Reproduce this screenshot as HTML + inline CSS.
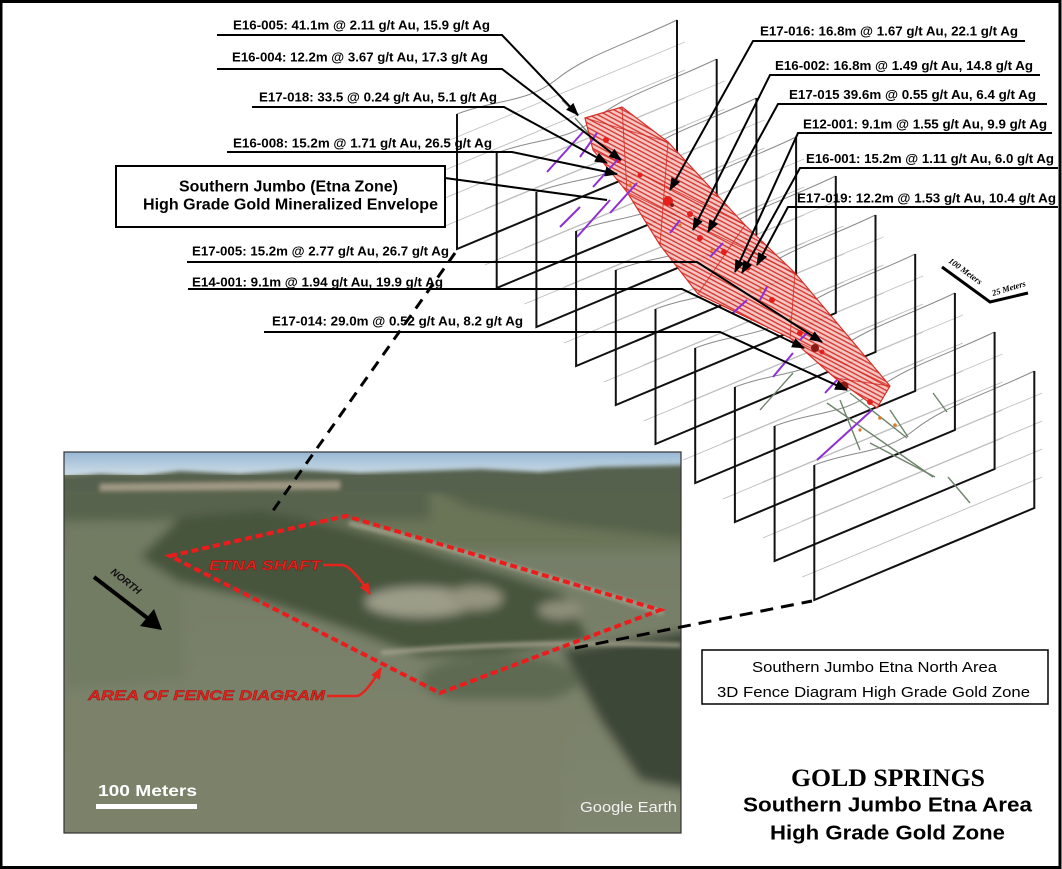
<!DOCTYPE html>
<html><head><meta charset="utf-8"><style>
html,body{margin:0;padding:0;background:#fff;}
svg{display:block;}
</style></head><body>
<svg width="1062" height="869" viewBox="0 0 1062 869" xmlns="http://www.w3.org/2000/svg" xmlns:xlink="http://www.w3.org/1999/xlink">
<defs>
  <marker id="ah" markerWidth="13" markerHeight="10" refX="12" refY="5" orient="auto" markerUnits="userSpaceOnUse">
    <path d="M0,0 L13,5 L0,10 Z" fill="#000"/>
  </marker>
  <marker id="ahr" markerWidth="12" markerHeight="10" refX="11" refY="5" orient="auto" markerUnits="userSpaceOnUse">
    <path d="M0,0 L12,5 L0,10 Z" fill="#e8231c"/>
  </marker>
  <pattern id="hatch" patternUnits="userSpaceOnUse" width="4" height="4" patternTransform="rotate(28)">
    <rect width="4" height="4" fill="#f6c4c0"/>
    <line x1="0" y1="0.7" x2="4" y2="0.7" stroke="#d4261f" stroke-width="1.3"/>
  </pattern>
  <g id="pg">
    <path d="M0,-135 C40,-150 70,-146 100,-170 S170,-205 220,-229" fill="none" stroke="#8a8a8a" stroke-width="1"/>
    <line x1="-12" y1="-23" x2="228" y2="-123" stroke="#bdbdbd" stroke-width="0.9"/>
    <line x1="-12" y1="-51" x2="228" y2="-151" stroke="#bdbdbd" stroke-width="0.9"/>
    <line x1="-12" y1="-79" x2="228" y2="-179" stroke="#bdbdbd" stroke-width="0.9"/>
    <line x1="-12" y1="-107" x2="228" y2="-207" stroke="#c4c4c4" stroke-width="0.9"/>
  </g>
  <g id="pb">
    <path d="M0,-135 V0 L220,-92 V-229" fill="none" stroke="#111" stroke-width="2"/>
  </g>
  <clipPath id="pc"><rect x="64" y="452" width="617" height="381"/></clipPath>
  <filter id="bl" x="-10%" y="-10%" width="120%" height="120%"><feGaussianBlur stdDeviation="5"/></filter>
  <filter id="bl2" x="-10%" y="-10%" width="120%" height="120%"><feGaussianBlur stdDeviation="2"/></filter>
  <linearGradient id="sky" x1="0" y1="0" x2="0" y2="1">
    <stop offset="0" stop-color="#8fb1d1"/><stop offset="1" stop-color="#cddde6"/>
  </linearGradient>
  <linearGradient id="fg" x1="0" y1="0" x2="0" y2="1">
    <stop offset="0" stop-color="#717a63"/><stop offset="1" stop-color="#7f866f"/>
  </linearGradient>
</defs>

<!-- page border -->
<rect x="1" y="1.5" width="1059" height="866" fill="none" stroke="#000" stroke-width="3"/>

<!-- fence panels gray -->
<use xlink:href="#pg" transform="translate(457,249)"/>
<use xlink:href="#pg" transform="translate(496.7,288)"/>
<use xlink:href="#pg" transform="translate(536.4,327)"/>
<use xlink:href="#pg" transform="translate(576.1,366)"/>
<use xlink:href="#pg" transform="translate(615.8,405)"/>
<use xlink:href="#pg" transform="translate(655.5,444)"/>
<use xlink:href="#pg" transform="translate(695.2,483)"/>
<use xlink:href="#pg" transform="translate(734.9,522)"/>
<use xlink:href="#pg" transform="translate(774.6,561)"/>
<use xlink:href="#pg" transform="translate(814.3,600)"/>

<!-- fence panels black -->
<use xlink:href="#pb" transform="translate(457,249)"/>
<use xlink:href="#pb" transform="translate(496.7,288)"/>
<use xlink:href="#pb" transform="translate(536.4,327)"/>
<use xlink:href="#pb" transform="translate(576.1,366)"/>
<use xlink:href="#pb" transform="translate(615.8,405)"/>
<use xlink:href="#pb" transform="translate(655.5,444)"/>
<use xlink:href="#pb" transform="translate(695.2,483)"/>
<use xlink:href="#pb" transform="translate(734.9,522)"/>
<use xlink:href="#pb" transform="translate(774.6,561)"/>
<use xlink:href="#pb" transform="translate(814.3,600)"/>

<!-- drill traces gray/green -->
<g stroke="#6f846c" stroke-width="1.4" fill="none">
  <line x1="827" y1="403" x2="933" y2="477"/>
  <line x1="840" y1="400" x2="860" y2="450"/>
  <line x1="870" y1="443" x2="935" y2="477"/>
  <line x1="850" y1="393" x2="907" y2="438"/>
  <line x1="890" y1="410" x2="908" y2="437"/>
  <line x1="760" y1="410" x2="793" y2="373"/>
  <line x1="933" y1="393" x2="947" y2="412"/>
  <line x1="948" y1="477" x2="970" y2="503"/>
  <line x1="575" y1="118" x2="590" y2="135"/>
  <line x1="562" y1="100" x2="578" y2="116"/>
</g>

<!-- envelope -->
<polygon points="585,118 622,107 668,142 745,225 795,273 890,386 877,408 835,378 790,338 698,294 660,245 627,192 593,150" fill="url(#hatch)" stroke="#d4261f" stroke-width="1.2" opacity="0.95"/>
<g stroke="#d4261f" stroke-width="0.9" fill="none" opacity="0.85">
  <path d="M622,107 L627,192 M668,142 L660,245 M745,225 L698,294 M795,273 L790,338 M890,386 L835,378"/>
  <path d="M585,118 L668,142 M593,150 L745,225 M627,192 L795,273 M698,294 L890,386"/>
</g>

<!-- red/orange blobs -->
<g fill="#e3201b">
  <circle cx="606" cy="140" r="3"/><circle cx="618" cy="160" r="3"/><circle cx="640" cy="175" r="2.5"/>
  <circle cx="668" cy="201" r="5"/><circle cx="690" cy="214" r="3"/><circle cx="700" cy="238" r="3"/>
  <circle cx="724" cy="252" r="3"/><circle cx="748" cy="268" r="2.5"/><circle cx="772" cy="300" r="3"/>
  <circle cx="800" cy="333" r="3"/><circle cx="822" cy="352" r="2.5"/>
  <circle cx="870" cy="402" r="3"/>
</g>
<g fill="#8a1a14"><circle cx="815" cy="348" r="4"/><circle cx="844" cy="386" r="4.5"/><circle cx="672" cy="205" r="2"/></g>
<g fill="#e07a20">
  <circle cx="630" cy="185" r="1.6"/><circle cx="680" cy="225" r="1.6"/><circle cx="712" cy="250" r="1.6"/>
  <circle cx="760" cy="290" r="1.6"/><circle cx="790" cy="320" r="1.6"/><circle cx="880" cy="418" r="1.8"/>
  <circle cx="895" cy="425" r="1.8"/><circle cx="860" cy="430" r="1.6"/>
</g>

<!-- purple drill traces -->
<g stroke="#8e2fd4" stroke-width="2" fill="none">
  <line x1="547" y1="172" x2="583" y2="132"/>
  <line x1="580" y1="157" x2="597" y2="133"/>
  <line x1="593" y1="187" x2="620" y2="157"/>
  <line x1="577" y1="237" x2="610" y2="200"/>
  <line x1="560" y1="227" x2="580" y2="207"/>
  <line x1="610" y1="213" x2="637" y2="183"/>
  <line x1="670" y1="233" x2="680" y2="220"/>
  <line x1="710" y1="257" x2="723" y2="243"/>
  <line x1="733" y1="313" x2="747" y2="300"/>
  <line x1="760" y1="300" x2="767" y2="287"/>
  <line x1="773" y1="377" x2="793" y2="353"/>
  <line x1="800" y1="340" x2="807" y2="333"/>
  <line x1="817" y1="460" x2="872" y2="410"/>
  <line x1="825" y1="393" x2="837" y2="380"/>
</g>

<!-- scale bar -->
<path d="M942,267 L990,302 L1028,293" fill="none" stroke="#000" stroke-width="3"/>
<text x="0" y="0" transform="translate(948,262) rotate(36)" font-family="Liberation Serif, serif" font-style="italic" font-weight="bold" font-size="8.5" fill="#000">100 Meters</text>
<text x="0" y="0" transform="translate(993,296) rotate(-17)" font-family="Liberation Serif, serif" font-style="italic" font-weight="bold" font-size="8.5" fill="#000">25 Meters</text>

<!-- leaders -->
<g stroke="#000" stroke-width="2" fill="none">
  <path d="M217,35 H502 L578,115" marker-end="url(#ah)"/>
  <path d="M217,69 H502 L621,160" marker-end="url(#ah)"/>
  <path d="M252,107 H504 L607,163" marker-end="url(#ah)"/>
  <path d="M227,152 H512 L617,174" marker-end="url(#ah)"/>
  <path d="M187,262 H697 L822,342" marker-end="url(#ah)"/>
  <path d="M188,289 H682 L804,348" marker-end="url(#ah)"/>
  <path d="M264,332 H720 L847,390" marker-end="url(#ah)"/>
  <path d="M1025,41 H753 L670,190" marker-end="url(#ah)"/>
  <path d="M1040,75 H770 L693,230" marker-end="url(#ah)"/>
  <path d="M1047,104 H778 L708,232" marker-end="url(#ah)"/>
  <path d="M1052,133 H798 L735,272" marker-end="url(#ah)"/>
  <path d="M1058,168 H800 L742,273" marker-end="url(#ah)"/>
  <path d="M1058,207 H788 L757,265" marker-end="url(#ah)"/>
  <path d="M445,178 L607,200"/>
</g>

<!-- labels -->
<g font-family="Liberation Sans, Arial, sans-serif" font-weight="bold" font-size="13" fill="#000">
  <text x="233" y="29.5" textLength="257" lengthAdjust="spacingAndGlyphs">E16-005: 41.1m @ 2.11 g/t Au, 15.9 g/t Ag</text>
  <text x="232" y="61.5" textLength="256" lengthAdjust="spacingAndGlyphs">E16-004: 12.2m @ 3.67 g/t Au, 17.3 g/t Ag</text>
  <text x="259" y="101.5" textLength="238" lengthAdjust="spacingAndGlyphs">E17-018: 33.5 @ 0.24 g/t Au, 5.1 g/t Ag</text>
  <text x="233" y="147.5" textLength="259" lengthAdjust="spacingAndGlyphs">E16-008: 15.2m @ 1.71 g/t Au, 26.5 g/t Ag</text>
  <text x="192" y="255.5" textLength="257" lengthAdjust="spacingAndGlyphs">E17-005: 15.2m @ 2.77 g/t Au, 26.7 g/t Ag</text>
  <text x="192" y="286.5" textLength="251" lengthAdjust="spacingAndGlyphs">E14-001: 9.1m @ 1.94 g/t Au, 19.9 g/t Ag</text>
  <text x="272" y="325.5" textLength="251" lengthAdjust="spacingAndGlyphs">E17-014: 29.0m @ 0.52 g/t Au, 8.2 g/t Ag</text>
  <text x="760" y="35.5" textLength="258" lengthAdjust="spacingAndGlyphs">E17-016: 16.8m @ 1.67 g/t Au, 22.1 g/t Ag</text>
  <text x="775" y="70" textLength="258" lengthAdjust="spacingAndGlyphs">E16-002: 16.8m @ 1.49 g/t Au, 14.8 g/t Ag</text>
  <text x="789" y="99" textLength="247" lengthAdjust="spacingAndGlyphs">E17-015 39.6m @ 0.55 g/t Au, 6.4 g/t Ag</text>
  <text x="803" y="128.5" textLength="244" lengthAdjust="spacingAndGlyphs">E12-001: 9.1m @ 1.55 g/t Au, 9.9 g/t Ag</text>
  <text x="806" y="163" textLength="248" lengthAdjust="spacingAndGlyphs">E16-001: 15.2m @ 1.11 g/t Au, 6.0 g/t Ag</text>
  <text x="797" y="202.5" textLength="259" lengthAdjust="spacingAndGlyphs">E17-019: 12.2m @ 1.53 g/t Au, 10.4 g/t Ag</text>
</g>

<!-- envelope label box -->
<rect x="116" y="166" width="329" height="61" fill="#fff" stroke="#000" stroke-width="2"/>
<g font-family="Liberation Sans, Arial, sans-serif" font-weight="bold" font-size="15.5" fill="#000">
  <text x="179" y="191.5" textLength="219" lengthAdjust="spacingAndGlyphs">Southern Jumbo (Etna Zone)</text>
  <text x="143" y="209.5" textLength="295" lengthAdjust="spacingAndGlyphs">High Grade Gold Mineralized Envelope</text>
</g>

<!-- photo -->
<g clip-path="url(#pc)">
  <g filter="url(#bl)">
    <rect x="50" y="440" width="650" height="410" fill="url(#fg)"/>
    <rect x="50" y="480" width="650" height="70" fill="#6b7559"/>
    <rect x="50" y="486" width="380" height="34" fill="#58644d"/>
    <polygon points="420,482 690,478 690,540 560,525 470,508" fill="#56624b"/>
    <polygon points="64,525 180,520 185,680 64,690" fill="#727b63"/>
    <polygon points="140,557 181,517 261,510 341,527 422,550 502,573 562,593 590,640 502,653 422,657 341,627 261,600 181,583" fill="#47553d"/>
    <ellipse cx="420" cy="602" rx="55" ry="15" fill="#9c9d89"/>
    <ellipse cx="475" cy="598" rx="28" ry="12" fill="#94947f"/>
    <ellipse cx="560" cy="610" rx="22" ry="9" fill="#8f907c"/>
    <polygon points="562,650 690,630 690,790 640,780 600,720" fill="#3d4737"/>
    <ellipse cx="500" cy="680" rx="80" ry="25" fill="#5f6a52"/>
    <rect x="64" y="700" width="500" height="140" fill="#7b826b"/>
  </g>
  <rect x="60" y="448" width="630" height="27" fill="url(#sky)"/>
  <g filter="url(#bl2)">
    <path d="M60,478 L100,474 140,476 180,471 240,474 300,470 360,473 420,471 480,469 540,472 600,467 690,465 V492 H60Z" fill="#55604e"/>
    <polygon points="100,484 340,481 340,489 100,491" fill="#a09a85"/>
    <path d="M349,523 Q500,560 663,613" fill="none" stroke="#a8a590" stroke-width="4"/>
    <path d="M381,653 Q520,640 681,645" fill="none" stroke="#a5a38e" stroke-width="4"/>
  </g>
  <!-- red dashed area -->
  <polygon points="170,556 346,516 660,610 440,693" fill="none" stroke="#ec1c1c" stroke-width="4" stroke-dasharray="7,4"/>
  <!-- north arrow -->
  <line x1="94" y1="577" x2="150" y2="620" stroke="#000" stroke-width="4"/>
  <polygon points="162,630 140,626 154,609" fill="#000"/>
  <text x="0" y="0" transform="translate(110,573) rotate(38)" font-family="Liberation Sans, Arial, sans-serif" font-weight="bold" font-style="italic" font-size="10" fill="#111">NORTH</text>
  <!-- etna shaft -->
  <g font-family="Liberation Sans, Arial, sans-serif" font-weight="bold" font-style="italic" fill="#e8231c" stroke="#8c1010" stroke-width="0.4">
    <text x="209" y="570" font-size="14" textLength="112" lengthAdjust="spacingAndGlyphs">ETNA SHAFT</text>
    <text x="88" y="700" font-size="14" textLength="237" lengthAdjust="spacingAndGlyphs">AREA OF FENCE DIAGRAM</text>
  </g>
  <path d="M323,565 H342 Q352,566 370,594" fill="none" stroke="#e8231c" stroke-width="2.5" marker-end="url(#ahr)"/>
  <path d="M327,696 H357 Q366,694 381,668" fill="none" stroke="#e8231c" stroke-width="2.5" marker-end="url(#ahr)"/>
  <!-- scale -->
  <text x="98" y="796" font-family="Liberation Sans, Arial, sans-serif" font-weight="bold" font-size="16" fill="#fff" textLength="99" lengthAdjust="spacingAndGlyphs">100 Meters</text>
  <rect x="96" y="804" width="101" height="5" fill="#fff"/>
  <text x="580" y="812" font-family="Liberation Sans, Arial, sans-serif" font-size="15" fill="#f2f2f2" textLength="97" lengthAdjust="spacingAndGlyphs">Google Earth</text>
</g>
<rect x="64" y="452" width="617" height="381" fill="none" stroke="#333" stroke-width="1.2"/>

<!-- dashed connectors -->
<line x1="455" y1="253" x2="272" y2="512" stroke="#000" stroke-width="3" stroke-dasharray="11,8"/>
<line x1="575" y1="648" x2="812" y2="601" stroke="#000" stroke-width="3" stroke-dasharray="13,8"/>

<!-- bottom-right box -->
<rect x="702" y="650" width="346" height="54" fill="#fff" stroke="#000" stroke-width="1.5"/>
<g font-family="Liberation Sans, Arial, sans-serif" font-size="14.5" fill="#000">
  <text x="752" y="672" textLength="245" lengthAdjust="spacingAndGlyphs">Southern Jumbo Etna North Area</text>
  <text x="717" y="697" textLength="313" lengthAdjust="spacingAndGlyphs">3D Fence Diagram High Grade Gold Zone</text>
</g>

<!-- title -->
<text x="791" y="786" font-family="Liberation Serif, Times New Roman, serif" font-weight="bold" font-size="25" fill="#000" textLength="194" lengthAdjust="spacingAndGlyphs">GOLD SPRINGS</text>
<g font-family="Liberation Sans, Arial, sans-serif" font-weight="bold" font-size="20.5" fill="#000">
  <text x="743" y="811.5" textLength="289" lengthAdjust="spacingAndGlyphs">Southern Jumbo Etna Area</text>
  <text x="770" y="839.5" textLength="235" lengthAdjust="spacingAndGlyphs">High Grade Gold Zone</text>
</g>
</svg>
</body></html>
